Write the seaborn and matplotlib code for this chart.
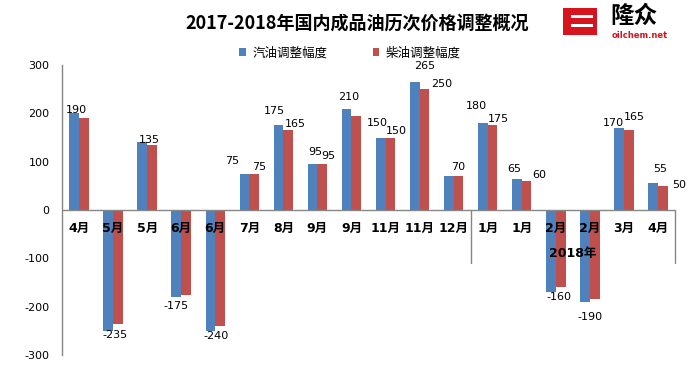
import matplotlib
matplotlib.use("Agg")
import matplotlib.pyplot as plt
import matplotlib.transforms as mtransforms
from matplotlib.patches import Rectangle
import pandas as pd
import seaborn as sns

# data
months = ['4月', '5月', '5月', '6月', '6月', '7月', '8月', '9月', '9月', '11月', '11月', '12月',
          '1月', '1月', '2月', '2月', '3月', '4月']
gasoline = [200, -250, 140, -180, -250, 75, 175, 95, 210, 150, 265, 70, 180, 65, -170, -190, 170, 55]
diesel = [190, -235, 135, -175, -240, 75, 165, 95, 195, 150, 250, 70, 175, 60, -160, -185, 165, 50]
series_names = ['汽油调整幅度', '柴油调整幅度']
year_label = '2018年'
year_start = 12          # first category of 2018

# which bars carry a value label: (category, series 0=gasoline / 1=diesel)
labelled = [(0, 1), (1, 1), (2, 1), (3, 1), (4, 1), (5, 0), (5, 1), (6, 0), (6, 1),
            (7, 0), (7, 1), (8, 0), (9, 0), (9, 1), (10, 0), (10, 1), (11, 1),
            (12, 0), (12, 1), (13, 0), (13, 1), (14, 1), (15, 0), (16, 0), (16, 1),
            (17, 0), (17, 1)]
# hand placement of those labels (pixels, dx right, dy down) like the original
label_offsets = [(-7, -8), (-3, 11), (-3, -5), (-10, 11), (-4, 10), (-12, -13), (5, -7),
                 (-4, -14), (7, -6), (3, -12), (6, -8), (2, -12), (-3, -14), (6, -6),
                 (10, -16), (17, -5), (0, -9), (-6, -17), (6, -6), (-3, -10), (13, -6),
                 (-2, 10), (5, 15), (-6, -5), (6, -13), (7, -14), (16, -1)]

blue = '#4F81BD'
red = '#C0504D'
axis_grey = '#868686'

sns.set_style('white')
plt.rcParams['font.family'] = ['DejaVu Sans', 'Noto Sans CJK SC']
plt.rcParams['axes.unicode_minus'] = False
plt.rcParams['text.color'] = 'black'
plt.rcParams['ytick.color'] = 'black'

df = pd.DataFrame({
    'idx': list(range(len(months))) * 2,
    'type': [series_names[0]] * len(months) + [series_names[1]] * len(months),
    'value': gasoline + diesel,
})

fig = plt.figure(figsize=(6.95, 3.7), dpi=100)
W, H = 695, 370
ax = fig.add_axes([62 / W, 15 / H, 613 / W, 290 / H])

sns.barplot(data=df, x='idx', y='value', hue='type', hue_order=series_names,
            palette=[blue, red], width=0.57, saturation=1, linewidth=0, ax=ax)

ax.set_xlim(-0.5, len(months) - 0.5)
ax.set_ylim(-300, 300)
ax.set_yticks([-300, -200, -100, 0, 100, 200, 300])
ax.tick_params(axis='y', length=0, pad=9, labelsize=8, labelcolor='black')
ax.set_xticks([])
ax.set_xlabel('')
ax.set_ylabel('')
for s in ['top', 'right', 'bottom']:
    ax.spines[s].set_visible(False)
ax.spines['left'].set_color(axis_grey)
ax.spines['left'].set_linewidth(1)
ax.axhline(0, color=axis_grey, lw=1, zorder=3)

# category axis: month labels, year group and separators
trans = mtransforms.blended_transform_factory(ax.transData, ax.transAxes)
for i, m in enumerate(months):
    ax.text(i, 0.5 - 18 / 290, m, transform=trans, ha='center', va='center', color='black',
            fontsize=9, fontweight='bold', family=['DejaVu Sans', 'Noto Sans CJK SC'], zorder=6)
for xs in [year_start - 0.5, len(months) - 0.5]:
    ax.plot([xs, xs], [0.5, 0.5 - 53 / 290], transform=trans, color=axis_grey,
            lw=1, clip_on=False, zorder=3)
ax.text((year_start + len(months) - 1) / 2, 0.5 - 43 / 290, year_label, transform=trans,
        ha='center', va='center', fontsize=9, fontweight='bold', color='black', zorder=6)

# value labels
for (cat, ser), (dx, dy) in zip(labelled, label_offsets):
    bar = ax.containers[ser][cat]
    v = [gasoline, diesel][ser][cat]
    ax.annotate(f'{v}', (bar.get_x() + bar.get_width() / 2, v),
                xytext=(dx, -dy), textcoords='offset pixels', color='black',
                ha='center', va='center', fontsize=8, zorder=7)

# legend
handles, labels = ax.get_legend_handles_labels()
leg = ax.legend(handles, labels, ncol=2, loc='center', bbox_to_anchor=(350 / W, 1 - 53 / H),
                bbox_transform=fig.transFigure, frameon=False,
                handlelength=0.55, handleheight=0.55, handletextpad=0.5, columnspacing=3.6,
                prop={'family': 'Noto Sans CJK SC', 'size': 9})
for t in leg.get_texts():
    t.set_color('black')

# title
fig.text(357 / W, 1 - 23 / H, '2017-2018年国内成品油历次价格调整概况', ha='center', va='center',
         fontsize=13, fontweight='bold', color='black', family=['Noto Sans CJK SC'])

# logo
fig.patches.append(Rectangle((563 / W, 1 - 35 / H), 34 / W, 27 / H, transform=fig.transFigure,
                             facecolor='#D7141E', edgecolor='none'))
for yy in [15, 24]:
    fig.patches.append(Rectangle((571 / W, 1 - (yy + 3) / H), 22 / W, 3 / H,
                                 transform=fig.transFigure, facecolor='white', edgecolor='none'))
fig.text(634 / W, 1 - 16 / H, '隆众', ha='center', va='center', fontsize=17,
         fontweight='bold', color='black', family=['Noto Sans CJK SC'])
fig.text(640 / W, 1 - 35 / H, 'oilchem.net', ha='center', va='center', fontsize=6,
         fontweight='bold', color='#D7141E')

fig.savefig('out.png', dpi=100)
